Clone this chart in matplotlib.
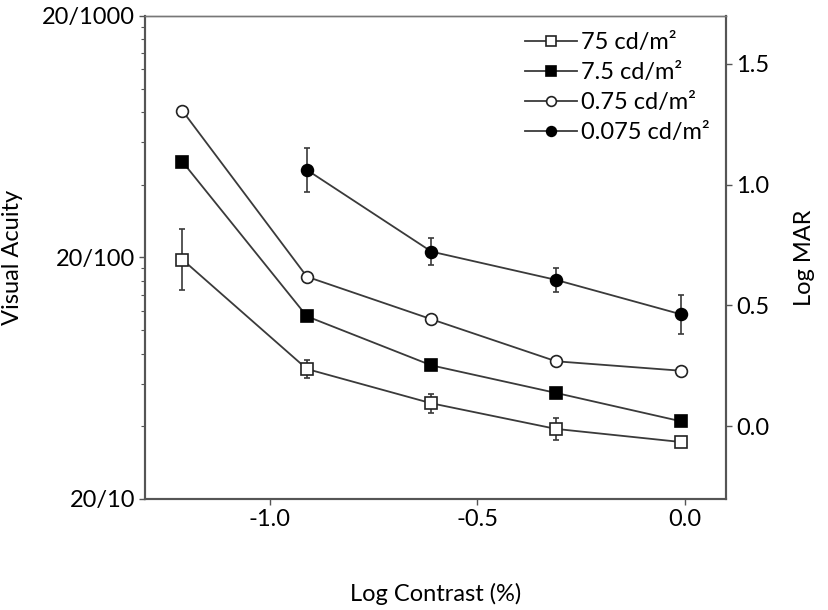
import numpy as np
import matplotlib
matplotlib.use("Agg")
import matplotlib.pyplot as plt
from matplotlib.lines import Line2D
from matplotlib.ticker import LogLocator, NullFormatter, FixedLocator

plt.rcParams['font.family'] = ['Lato', 'DejaVu Sans']

# log contrast positions
log_contrast = [-1.21, -0.91, -0.61, -0.31, -0.01]

# Log MAR values per luminance
mar_75 = [0.69, 0.237, 0.095, -0.011, -0.065]
err_75 = [0.125, 0.037, 0.04, 0.045, 0.012]
mar_7_5 = [1.095, 0.455, 0.252, 0.138, 0.021]
err_7_5 = [0.01, 0.01, 0.01, 0.01, 0.01]
mar_0_75 = [1.306, 0.619, 0.443, 0.269, 0.230]
err_0_75 = [0.008, 0.008, 0.008, 0.008, 0.008]
x_0_075 = [-0.91, -0.61, -0.31, -0.01]
mar_0_075 = [1.061, 0.723, 0.606, 0.464]
err_0_075 = [0.09, 0.057, 0.05, 0.08]

labels = ['75 cd/m²', '7.5 cd/m²', '0.75 cd/m²', '0.075 cd/m²']

fig = plt.figure(figsize=(8.29, 6.10), dpi=100)
ax = fig.add_axes([0.175, 0.182, 0.701, 0.792])
ax2 = ax.twinx()

lc = '#3a3a3a'
common = dict(color=lc, lw=1.3, elinewidth=1.2, capsize=2.5, capthick=1.2, ms=8.5, mew=1.2)
styles = [('s', 'white', '#222'), ('s', 'black', 'black'), ('o', 'white', '#222'), ('o', 'black', 'black')]
series = [(log_contrast, mar_75, err_75), (log_contrast, mar_7_5, err_7_5),
          (log_contrast, mar_0_75, err_0_75), (x_0_075, mar_0_075, err_0_075)]
handles = []
for (xs, ys, es), (m, fc, ec), lab in zip(series, styles, labels):
    ax2.errorbar(xs, ys, yerr=es, marker=m, mfc=fc, mec=ec, **common)
    handles.append(Line2D([], [], color=lc, lw=1.3, marker=m, mfc=fc, mec=ec, ms=7, mew=1.2, label=lab))

ax.set_xlim(-1.3, 0.1)
ax.set_yscale('log')
ax.set_ylim(10, 1000)
ax.yaxis.set_major_locator(FixedLocator([10, 100, 1000]))
ax.set_yticklabels(['20/10', '20/100', '20/1000'])
ax.yaxis.set_minor_locator(LogLocator(base=10, subs=np.arange(2, 10)))
ax.yaxis.set_minor_formatter(NullFormatter())
ax.set_xticks([-1.0, -0.5, 0.0])
ax.set_xticklabels(['-1.0', '-0.5', '0.0'])

ax2.set_ylim(np.log10(10 / 20), np.log10(1000 / 20))
ax2.set_yticks([0.0, 0.5, 1.0, 1.5])
ax2.set_yticklabels(['0.0', '0.5', '1.0', '1.5'])

for a in (ax, ax2):
    for s in a.spines.values():
        s.set_color('#555555')
        s.set_linewidth(1.5)
    a.spines['top'].set_linewidth(1.0)
    a.spines['top'].set_color('#777777')
    a.tick_params(axis='both', which='major', labelsize=17, length=4, width=1.0, color='#555555', pad=3)
    a.tick_params(axis='both', which='minor', length=3, width=0.8, color='#555555')

ax.set_xlabel('Log Contrast (%)', fontsize=17, labelpad=38)
ax.set_ylabel('Visual Acuity', fontsize=17, labelpad=14)
ax2.set_ylabel('Log MAR', fontsize=17, labelpad=18)

leg = ax2.legend(handles=handles, loc='upper right', frameon=False, fontsize=17, handlelength=2.2,
                 handletextpad=0.15, labelspacing=0.38, borderaxespad=0.4, borderpad=0.3)

fig.savefig('out.png', dpi=100)
